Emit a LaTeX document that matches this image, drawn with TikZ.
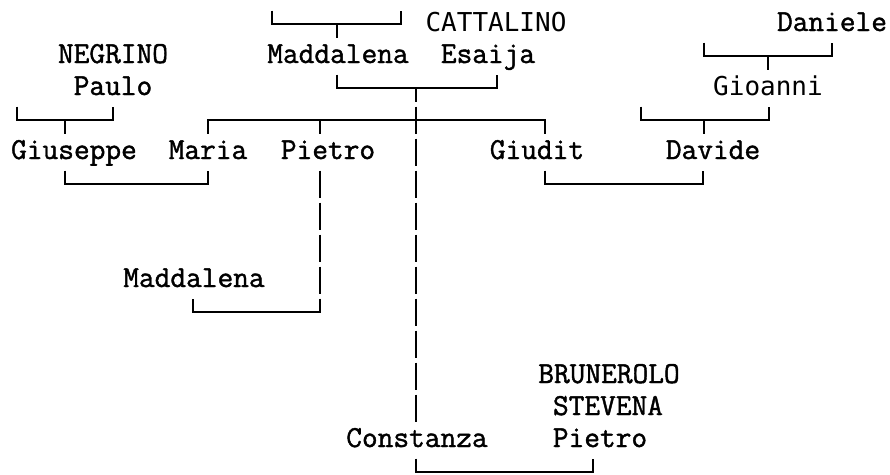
\documentclass[tikz,border=0pt]{standalone}
\usepackage{fontspec}
\newfontfamily\smono{Latin Modern Mono}[FakeBold=1.4]
\newfontfamily\dmono{DejaVu Sans Mono}
\begin{document}
\begin{tikzpicture}[x=1pt,y=-1pt,
  nm/.style={font=\smono\fontsize{30.5}{32}\selectfont, anchor=base, inner sep=0pt},
  nms/.style={font=\dmono\fontsize{26}{30}\selectfont, anchor=base, inner sep=0pt},
  ln/.style={line width=1.6pt, line join=miter},
  gap/.style={ln, dash pattern=on 27pt off 5pt}]
\useasboundingbox (0,0) rectangle (890,474);
% names
\node[nms] (cattalino) at (496,31) {CATTALINO};
\node[nm]  (daniele)   at (832,31) {Daniele};
\node[nm]  (negrino)   at (113,63) {NEGRINO};
\node[nm]  (madd1)     at (338,63) {Maddalena};
\node[nm]  (esaija)    at (488,63) {Esaija};
\node[nm]  (paulo)     at (113,95) {Paulo};
\node[nms] (gioanni)   at (768,95) {Gioanni};
\node[nm]  (giuseppe)  at (74,159) {Giuseppe};
\node[nm]  (maria)     at (208,159) {Maria};
\node[nm]  (pietro1)   at (328,159) {Pietro};
\node[nm]  (giudit)    at (537,159) {Giudit};
\node[nm]  (davide)    at (713,159) {Davide};
\node[nm]  (madd2)     at (194,287) {Maddalena};
\node[nm]  (brun)      at (609,383) {BRUNEROLO};
\node[nm]  (stevena)   at (608,415) {STEVENA};
\node[nm]  (constanza) at (417,447) {Constanza};
\node[nm]  (pietro2)   at (600,447) {Pietro};
% junction coordinates
\coordinate (tL) at (272,10.5); \coordinate (tR) at (401,10.5);
\coordinate (tJ) at (337,24);   \coordinate (tS) at (337,37.5);
\coordinate (meL) at (337,74.5); \coordinate (meR) at (497,74.5);
\coordinate (meJ) at (416,88);   \coordinate (cEnd) at (416,421.5);
\coordinate (pL) at (17,106.5);  \coordinate (pR) at (113,106.5);
\coordinate (pJ) at (65,120);    \coordinate (pS) at (65,133.5);
\coordinate (sL) at (208,133.5); \coordinate (sR) at (545,133.5);
\coordinate (sX) at (416,120);   \coordinate (sM) at (320,133.5);
\coordinate (gmL) at (65,170.5); \coordinate (gmR) at (208,170.5);
\coordinate (gmJ) at (65,184);
\coordinate (ptT) at (320,170.5); \coordinate (ptE) at (320,293.5);
\coordinate (ptB) at (320,298.5); \coordinate (ptC) at (320,312);
\coordinate (m2) at (193,298.5);
\coordinate (gdL) at (545,170.5); \coordinate (gdR) at (703,170.5);
\coordinate (gdJ) at (545,184);
\coordinate (gL) at (641,106.5); \coordinate (gR) at (769,106.5);
\coordinate (gJ) at (704,120);   \coordinate (gS) at (704,133.5);
\coordinate (dL) at (704,42.5);  \coordinate (dR) at (832,42.5);
\coordinate (dJ) at (768,56);    \coordinate (dS) at (768,69.5);
\coordinate (bL) at (416,458.5); \coordinate (bR) at (593,458.5);
\coordinate (bJ) at (416,472);
% connectors
\draw[ln] (tL) |- (tJ) -| (tR);
\draw[ln] (tJ) -- (tS);
\draw[ln] (meL) |- (meJ) -| (meR);
\draw[gap, dash phase=13.5pt] (meJ) -- (cEnd);
\draw[ln] (pL) |- (pJ) -| (pR);
\draw[ln] (pJ) -- (pS);
\draw[ln] (sL) |- (sX) -| (sR);
\draw[ln] (sM) -- (sM |- sX);
\draw[ln] (gmL) -- (gmJ) -| (gmR);
\draw[gap] (ptT) -- (ptE);
\draw[ln] (ptB) -- (ptC) -| (m2);
\draw[ln] (gdL) -- (gdJ) -| (gdR);
\draw[ln] (gL) |- (gJ) -| (gR);
\draw[ln] (gJ) -- (gS);
\draw[ln] (dL) |- (dJ) -| (dR);
\draw[ln] (dJ) -- (dS);
\draw[ln] (bL) -- (bJ) -| (bR);
\end{tikzpicture}
\end{document}
